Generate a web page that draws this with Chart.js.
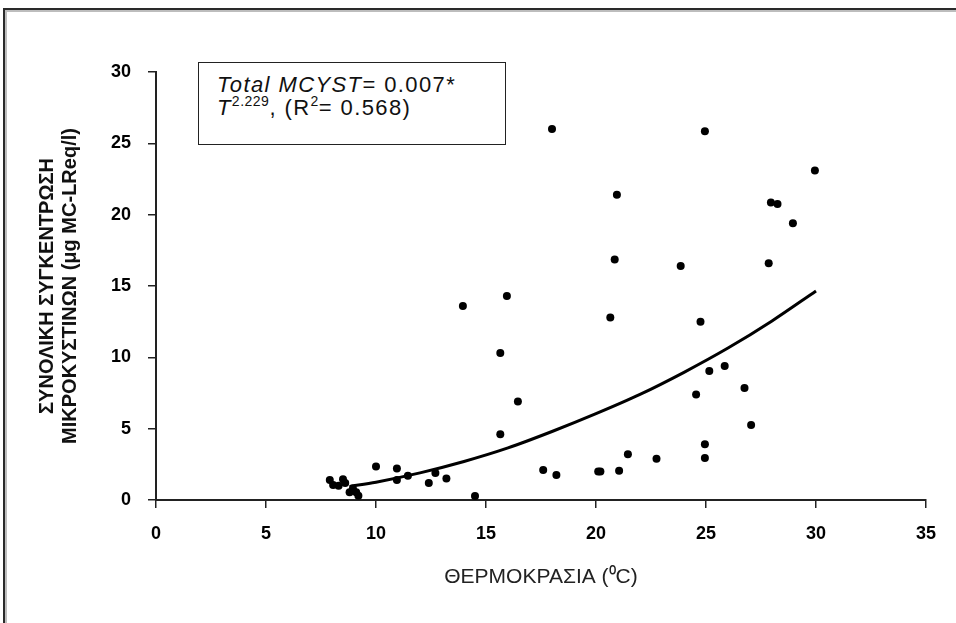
<!DOCTYPE html>
<html>
<head>
<meta charset="utf-8">
<script src="https://cdn.jsdelivr.net/npm/chart.js@4.4.1/dist/chart.umd.min.js"></script>
<style>
  html, body { margin:0; padding:0; background:#fff; }
  #wrap { position:relative; width:956px; height:623px; overflow:hidden; background:#fff; }
  #frame { position:absolute; left:3px; top:8px; width:1100px; height:800px;
           border-top:2px solid #2a2a2a; border-left:2px solid #2a2a2a;
           box-shadow: inset 2px 2px 0 #bdbdbd; box-sizing:border-box; }
  canvas { position:absolute; left:0; top:0; }
  #note { position:absolute; left:198px; top:62px; width:308px; height:83px;
          border:1.5px solid #222; box-sizing:border-box; background:#fff;
          font-family:"Liberation Sans", Arial, sans-serif; font-size:22px; line-height:23px;
          letter-spacing:1.4px; color:#111; padding:10px 0 0 18px; white-space:nowrap; }
  #note sup { font-size:14px; line-height:0; position:relative; top:-1px; letter-spacing:0.5px; }
</style>
</head>
<body>
<div id="wrap">
  <div id="frame"></div>
  <canvas id="c" width="956" height="623"></canvas>
  <div id="note"><i>Total MCYST</i>= 0.007*<br><i>T</i><sup>2.229</sup>, (R<sup>2</sup>= 0.568)</div>
</div>
<script>
// Observed points: temperature (°C) and total microcystin (μg MC-LReq/l)
const temperature = [7.9, 8.05, 8.3, 8.5, 8.6, 8.8, 8.95, 9.1, 9.2,
  10.0, 10.95, 10.95, 11.45, 12.4, 12.7, 13.2, 13.95, 14.5,
  15.65, 15.65, 15.95, 16.45, 17.6, 18.0, 18.2, 20.1, 20.2,
  20.65, 20.85, 20.95, 21.05, 21.45, 22.75, 23.85, 24.55, 24.75,
  24.95, 24.95, 24.95, 25.15, 25.85, 26.75, 27.05, 27.85, 27.95,
  28.25, 28.95, 29.95];
const microcystin = [1.4, 1.05, 1.0, 1.45, 1.2, 0.55, 0.8, 0.55, 0.3,
  2.35, 2.2, 1.4, 1.7, 1.2, 1.9, 1.5, 13.6, 0.28,
  10.3, 4.6, 14.3, 6.9, 2.1, 26.0, 1.75, 2.0, 2.0,
  12.8, 16.85, 21.4, 2.05, 3.2, 2.9, 16.4, 7.4, 12.5,
  25.85, 3.9, 2.95, 9.05, 9.4, 7.85, 5.25, 16.6, 20.85,
  20.75, 19.4, 23.1];
// Fitted curve as drawn in the picture
const curveT = [8.8, 10, 12, 14, 16, 18, 20, 22, 24, 26, 28, 30];
const curveV = [0.95, 1.25, 1.9, 2.7, 3.65, 4.8, 6.05, 7.4, 8.95, 10.65, 12.55, 14.65];
// Axis ticks
const xTicks = [0, 5, 10, 15, 20, 25, 30, 35];
const yTicks = [0, 5, 10, 15, 20, 25, 30];
const xTitle = "ΘΕΡΜΟΚΡΑΣΙΑ (⁰C)";
const yTitle = ["ΣΥΝΟΛΙΚΗ ΣΥΓΚΕΝΤΡΩΣΗ", "ΜΙΚΡΟΚΥΣΤΙΝΩΝ (μg MC-LReq/l)"];

const pts = temperature.map((t, i) => ({x: t, y: microcystin[i]}));
const curve = curveT.map((t, i) => ({x: t, y: curveV[i]}));

const FONT = '"Liberation Sans", Arial, sans-serif';

new Chart(document.getElementById('c'), {
  type: 'scatter',
  data: {
    datasets: [
      { data: curve, showLine: true, borderColor: '#000', borderWidth: 3,
        pointRadius: 0, tension: 0.4, cubicInterpolationMode: 'monotone', order: 2 },
      { data: pts, pointStyle: 'circle', pointRadius: 4, backgroundColor: '#000',
        borderColor: '#000', borderWidth: 0, order: 1 }
    ]
  },
  options: {
    responsive: false,
    animation: false,
    devicePixelRatio: 1,
    layout: { padding: { left: 0, top: 72, right: 30, bottom: 0 } },
    plugins: { legend: { display: false }, tooltip: { enabled: false } },
    scales: {
      x: {
        type: 'linear', min: 0, max: 35,
        afterBuildTicks: s => { s.ticks = xTicks.map(v => ({value: v})); },
        afterFit: s => { s.height = 123; },
        grid: { display: true, drawOnChartArea: false, drawTicks: true, tickLength: 8,
                color: '#222', lineWidth: 1.5 },
        border: { display: true, color: '#222', width: 2 },
        ticks: { color: '#000', padding: 15, font: { family: FONT, size: 18, weight: 'bold' } },
        title: { display: true, text: xTitle, color: '#222',
                 font: { family: FONT, size: 21, weight: 'normal' },
                 padding: { top: 0, bottom: 33 } }
      },
      y: {
        type: 'linear', min: 0, max: 30,
        afterBuildTicks: s => { s.ticks = yTicks.map(v => ({value: v})); },
        afterFit: s => { s.width = 156; },
        grid: { display: true, drawOnChartArea: false, drawTicks: true, tickLength: 8,
                color: '#222', lineWidth: 1.5 },
        border: { display: true, color: '#222', width: 2 },
        ticks: { color: '#000', padding: 17, font: { family: FONT, size: 18, weight: 'bold' } },
        title: { display: true, text: yTitle, color: '#111',
                 font: { family: FONT, size: 20, weight: 'bold', lineHeight: 1.15 },
                 padding: { top: 36, bottom: 0 } }
      }
    }
  }
});
</script>
</body>
</html>
